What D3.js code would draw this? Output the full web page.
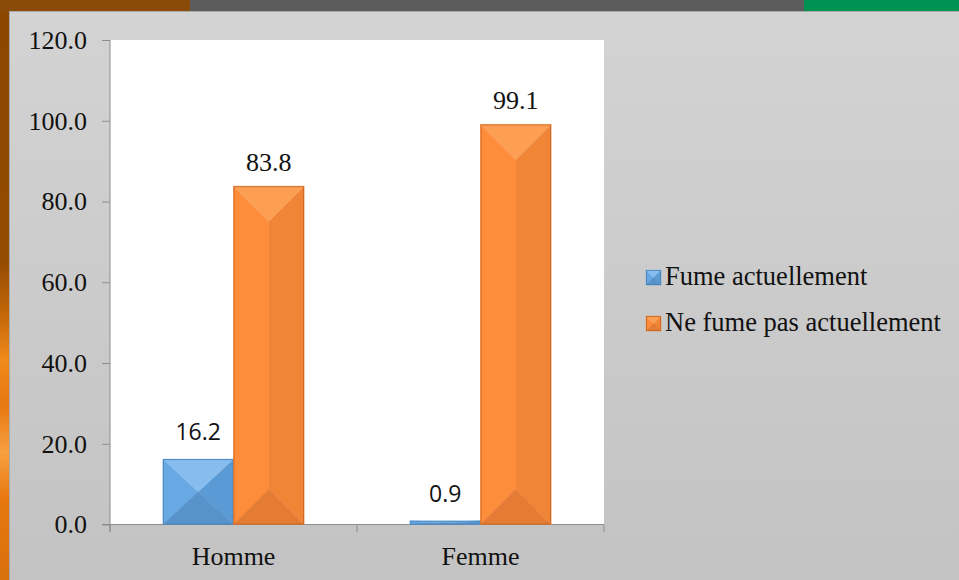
<!DOCTYPE html>
<html>
<head>
<meta charset="utf-8">
<script src="https://cdn.jsdelivr.net/npm/d3@7"></script>
<style>
  html, body { margin: 0; padding: 0; background: #d0d0d0; }
  svg { display: block; }
  .serif { font-family: "Liberation Serif", "Times New Roman", serif; }
  .sans { font-family: "Open Sans", "Liberation Sans", sans-serif; }
</style>
</head>
<body>
<svg id="chart" width="959" height="580"></svg>
<script>
// Smoking status by sex (%)
const categories = ["Homme", "Femme"];
const seriesNames = ["Fume actuellement", "Ne fume pas actuellement"];
const fumeActuellement = [16.2, 0.9];
const neFumePas = [83.8, 99.1];
const yTicks = [0, 20, 40, 60, 80, 100, 120];

const seriesValues = [fumeActuellement, neFumePas];
const palette = [
  { top: "#86bdee", left: "#68a9e3", right: "#5a9ad5", bottom: "#5792ca", stroke: "#4a80b4" },
  { top: "#fc9e54", left: "#fd8d3b", right: "#f08437", bottom: "#e47c35", stroke: "#c4631f" }
];
// sans labels for the smaller values, serif for the larger ones
const labelFonts = ["sans", "serif"];

const svg = d3.select("#chart");
const W = 959, H = 580;
const defs = svg.append("defs");

// ---- slide decoration ----
const leftGrad = defs.append("linearGradient").attr("id", "leftStrip")
  .attr("x1", 0).attr("y1", 0).attr("x2", 0).attr("y2", 1);
[[0, "#8a4600"], [0.45, "#944b02"], [0.55, "#c86a0a"], [0.62, "#f08a1a"], [0.7, "#e87812"],
 [0.78, "#f7a040"], [0.86, "#e8780e"], [1, "#d8700c"]]
  .forEach(([o, c]) => leftGrad.append("stop").attr("offset", o).attr("stop-color", c));
svg.append("rect").attr("x", 0).attr("y", 0).attr("width", 10).attr("height", H).attr("fill", "url(#leftStrip)");
svg.append("rect").attr("x", 0).attr("y", 0).attr("width", 190).attr("height", 12).attr("fill", "#8a4a08");
svg.append("rect").attr("x", 190).attr("y", 0).attr("width", 614).attr("height", 12).attr("fill", "#5c5c5c");
svg.append("rect").attr("x", 804).attr("y", 0).attr("width", 155).attr("height", 12).attr("fill", "#009252");

// ---- chart panel ----
const panelGrad = defs.append("linearGradient").attr("id", "panel")
  .attr("x1", 0).attr("y1", 0).attr("x2", 0).attr("y2", 1);
panelGrad.append("stop").attr("offset", 0).attr("stop-color", "#d3d3d3");
panelGrad.append("stop").attr("offset", 1).attr("stop-color", "#c3c3c3");
svg.append("rect").attr("x", 9.5).attr("y", 11.5).attr("width", W - 9).attr("height", H - 11)
  .attr("fill", "url(#panel)").attr("stroke", "#a9a9a9").attr("stroke-width", 1);

// ---- scales ----
const plot = { left: 110, right: 604, top: 40, bottom: 524.5 };
const x0 = d3.scaleBand().domain(categories).range([plot.left, plot.right]).paddingInner(0).paddingOuter(0);
const x1 = d3.scaleBand().domain(d3.range(seriesNames.length)).range([0, x0.bandwidth()])
  .paddingInner(0).paddingOuter(0.75);
const y = d3.scaleLinear().domain([0, 120]).range([plot.bottom, plot.top]);

// plot area
svg.append("rect").attr("x", plot.left).attr("y", plot.top)
  .attr("width", plot.right - plot.left).attr("height", plot.bottom - plot.top).attr("fill", "#ffffff");

// ---- axes ----
const axisColor = "#8c8c8c";
const yAxis = svg.append("g").attr("transform", `translate(${plot.left},0)`)
  .call(d3.axisLeft(y).tickValues(yTicks).tickFormat(d3.format(".1f")).tickSize(8).tickPadding(15));
yAxis.attr("font-family", null).attr("font-size", null);
yAxis.select(".domain").attr("stroke", axisColor).attr("d", `M0,${plot.top}V${plot.bottom + 7.5}`);
yAxis.selectAll(".tick line").attr("stroke", axisColor);
yAxis.selectAll(".tick text").attr("class", "serif")
  .attr("fill", "#111").attr("font-size", 26);

const xAxis = svg.append("g").attr("transform", `translate(0,${plot.bottom})`)
  .call(d3.axisBottom(x0).tickSize(0).tickPadding(0));
xAxis.attr("font-family", null).attr("font-size", null);
xAxis.select(".domain").attr("stroke", axisColor).attr("d", `M${plot.left - 8},0H${plot.right}`);
xAxis.selectAll(".tick text").attr("class", "serif")
  .attr("fill", "#111").attr("y", 40).attr("dy", 0).attr("font-size", 26);
// category separators
const seps = [plot.left, ...categories.map(c => x0(c) + x0.bandwidth())];
svg.append("g").selectAll("line").data(seps).join("line")
  .attr("x1", d => d).attr("x2", d => d).attr("y1", plot.bottom).attr("y2", plot.bottom + 7.5)
  .attr("stroke", axisColor);

// ---- bevelled bars ----
function bevel(g, bx, by, bw, bh, pal) {
  const xa = bx, xb = bx + bw, ya = by, yb = by + bh, cx = bx + bw / 2;
  const t = Math.min(bw / 2, bh / 2);
  const polys = [
    { pts: [[xa, ya], [cx, ya + t], [cx, yb - t], [xa, yb]], fill: pal.left },
    { pts: [[xb, ya], [cx, ya + t], [cx, yb - t], [xb, yb]], fill: pal.right },
    { pts: [[xa, ya], [xb, ya], [cx, ya + t]], fill: pal.top },
    { pts: [[xa, yb], [xb, yb], [cx, yb - t]], fill: pal.bottom }
  ];
  g.selectAll(null).data(polys).join("polygon")
    .attr("points", d => d.pts.map(p => p.join(",")).join(" "))
    .attr("fill", d => d.fill).attr("stroke", d => d.fill).attr("stroke-width", 0.5);
  g.append("rect").attr("x", xa + 0.5).attr("y", ya + 0.5)
    .attr("width", Math.max(bw - 1, 0)).attr("height", Math.max(bh - 1, 0))
    .attr("fill", "none").attr("stroke", pal.stroke).attr("stroke-width", 1).attr("stroke-opacity", 0.8);
}

const bars = [];
categories.forEach((c, ci) => {
  seriesValues.forEach((vals, si) => {
    bars.push({ cat: c, s: si, v: vals[ci] });
  });
});

const barG = svg.append("g");
bars.forEach(b => {
  const bx = x0(b.cat) + x1(b.s);
  const by = y(b.v);
  bevel(barG.append("g"), bx, by, x1.bandwidth(), y(0) - by, palette[b.s]);
});

// value labels
svg.append("g").selectAll("text").data(bars).join("text")
  .attr("class", d => labelFonts[d.s])
  .attr("x", d => x0(d.cat) + x1(d.s) + x1.bandwidth() / 2)
  .attr("y", d => y(d.v) - (labelFonts[d.s] === "sans" ? 19 : 15))
  .attr("text-anchor", "middle").attr("fill", "#111")
  .attr("font-size", d => labelFonts[d.s] === "sans" ? 23 : 26)
  .text(d => d3.format(".1f")(d.v));

// ---- legend ----
const legend = svg.append("g").attr("transform", "translate(646,270)");
seriesNames.forEach((name, i) => {
  const g = legend.append("g").attr("transform", `translate(0,${i * 46})`);
  bevel(g, 0, 0, 15, 15, palette[i]);
  g.append("text").attr("class", "serif").attr("x", 19).attr("y", 15).attr("fill", "#111")
    .attr("font-size", 26.5)
    .text(name);
});
</script>
</body>
</html>
